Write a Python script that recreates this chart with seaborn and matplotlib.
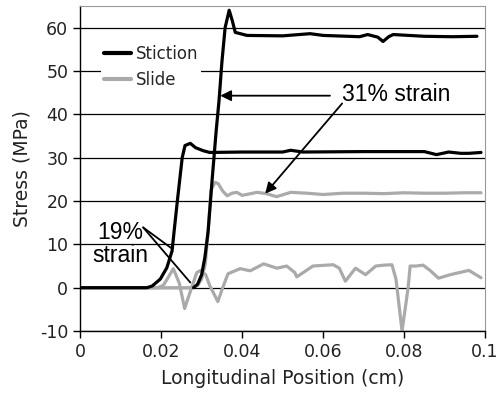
import pandas as pd
import matplotlib
matplotlib.use("Agg")
import matplotlib.pyplot as plt
import seaborn as sns

# Stress profiles along the tube
stiction_19_x = [0, 0.0165, 0.0178, 0.0198, 0.0214, 0.0227, 0.0232, 0.024, 0.0252, 0.0259,
                 0.0272, 0.0285, 0.0304, 0.032, 0.040, 0.050, 0.052, 0.055, 0.070, 0.085,
                 0.088, 0.091, 0.094, 0.096, 0.099]
stiction_19_y = [0, 0, 0.4, 2, 4.6, 8.5, 13, 20, 30, 32.8,
                 33.3, 32.3, 31.6, 31.2, 31.3, 31.3, 31.7, 31.3, 31.4, 31.4,
                 30.7, 31.3, 31.0, 31.0, 31.2]

stiction_31_x = [0.028, 0.029, 0.0300, 0.0308, 0.0316, 0.0326, 0.0336, 0.0343, 0.035, 0.0358,
                 0.0368, 0.0376, 0.0383, 0.0412, 0.050, 0.0568, 0.060, 0.069, 0.071, 0.0735,
                 0.0748, 0.0762, 0.0773, 0.085, 0.092, 0.098]
stiction_31_y = [0, 0.8, 3, 7, 13, 25, 36.3, 43.2, 52, 60,
                 64, 61.5, 58.9, 58.2, 58.1, 58.6, 58.2, 57.9, 58.4, 57.8,
                 56.8, 57.9, 58.4, 58.0, 57.9, 58.0]

slide_19_x = [0, 0.019, 0.0205, 0.0215, 0.023, 0.0245, 0.0258, 0.0268, 0.0277, 0.0288,
              0.0298, 0.031, 0.032, 0.034, 0.0352, 0.0365, 0.0395, 0.042, 0.0453, 0.0486,
              0.051, 0.053, 0.0535, 0.0575, 0.0625, 0.064, 0.0655, 0.068, 0.0705, 0.073,
              0.075, 0.077, 0.078, 0.0795, 0.081, 0.0815, 0.083, 0.0847, 0.0864, 0.0885,
              0.0914, 0.096, 0.099]
slide_19_y = [0, 0, 0.5, 2, 4.4, 1, -4.8, -2, 0.5, 3.5,
              4, 3, 0.5, -3.2, 0, 3.2, 4.4, 3.9, 5.5, 4.5,
              5.0, 3.5, 2.5, 5.0, 5.3, 4.5, 1.5, 4.5, 3, 5,
              5.2, 5.3, 2, -10, 0, 5, 5, 5.2, 4, 2.2,
              3, 4, 2.3]

slide_31_x = [0, 0.027, 0.0290, 0.0300, 0.0309, 0.0316, 0.0323, 0.0333, 0.0341, 0.0352,
              0.0363, 0.0375, 0.0387, 0.040, 0.0437, 0.046, 0.0485, 0.052, 0.056, 0.060,
              0.065, 0.070, 0.075, 0.080, 0.085, 0.090, 0.095, 0.099]
slide_31_y = [0, 0, 0.5, 2, 5.5, 13, 22.5, 24.3, 24.0, 22.3,
              21.2, 21.8, 22.0, 21.3, 22.0, 21.7, 21.0, 22.0, 21.8, 21.5,
              21.8, 21.8, 21.7, 21.9, 21.8, 21.8, 21.9, 21.9]

frames = []
for xs, ys, surface, strain in [(slide_19_x, slide_19_y, 'Slide', '19%'),
                                (slide_31_x, slide_31_y, 'Slide', '31%'),
                                (stiction_31_x, stiction_31_y, 'Stiction', '31%'),
                                (stiction_19_x, stiction_19_y, 'Stiction', '19%')]:
    frames.append(pd.DataFrame({'pos': xs, 'stress': ys, 'surface': surface, 'strain': strain}))
df = pd.concat(frames, ignore_index=True)

sns.set_style('ticks')
plt.rcParams['font.family'] = ['DejaVu Sans']
plt.rcParams['axes.unicode_minus'] = False

fig = plt.figure(figsize=(4.98, 3.96), dpi=100)
ax = fig.add_axes([0.161, 0.164, 0.813, 0.821])

sns.lineplot(data=df, x='pos', y='stress', hue='surface', units='strain', estimator=None,
             sort=False, hue_order=['Slide', 'Stiction'],
             palette={'Stiction': 'black', 'Slide': '#aaaaaa'}, lw=2.3, ax=ax)

ax.set_xlim(0, 0.1)
ax.set_ylim(-10, 65)
ax.set_xticks([0, 0.02, 0.04, 0.06, 0.08, 0.1])
ax.set_xticklabels(['0', '0.02', '0.04', '0.06', '0.08', '0.1'])
ax.set_yticks(range(-10, 61, 10))
ax.yaxis.grid(True, color='black', lw=0.9)
ax.set_axisbelow(True)
ax.tick_params(direction='out', length=5, width=1, colors='black', labelsize=12.5,
               labelcolor='#222222')
for side in ['top', 'right']:
    ax.spines[side].set_color('#999999')
    ax.spines[side].set_linewidth(0.8)
for side in ['left', 'bottom']:
    ax.spines[side].set_color('black')
    ax.spines[side].set_linewidth(1)

ax.set_xlabel('Longitudinal Position (cm)', fontsize=13.5, color='#222222', labelpad=6)
ax.set_ylabel('Stress (MPa)', fontsize=13.5, color='#222222', labelpad=6)

handles, labels = ax.get_legend_handles_labels()
order = [labels.index('Stiction'), labels.index('Slide')]
leg = ax.legend([handles[i] for i in order], [labels[i] for i in order],
                loc='upper left', bbox_to_anchor=(0.03, 0.915), fontsize=12,
                frameon=True, facecolor='white', edgecolor='none', framealpha=1,
                handlelength=1.6, handletextpad=0.3, labelspacing=0.45,
                borderpad=0.2, fancybox=False)
for line in leg.get_lines():
    line.set_linewidth(3)

# annotations
txt = dict(family='Liberation Sans', fontsize=16.5, color='black')
ax.text(0.0647, 44.6, '31% strain', ha='left', va='center', **txt)
arrow = dict(arrowstyle='-|>', color='black', lw=1.3, mutation_scale=16,
             shrinkA=0, shrinkB=0)
ax.annotate('', xy=(0.0346, 44.3), xytext=(0.0617, 44.3), arrowprops=arrow)
ax.annotate('', xy=(0.0457, 21.7), xytext=(0.0647, 42.5), arrowprops=arrow)

ax.text(0.0100, 10.0, '19%\nstrain', ha='center', va='center', multialignment='center',
        linespacing=1.0, **txt)
plain = dict(arrowstyle='-', color='black', lw=1.3, shrinkA=0, shrinkB=0)
ax.annotate('', xy=(0.0227, 9.0), xytext=(0.01556, 13.9), arrowprops=plain)
ax.annotate('', xy=(0.0272, 1.2), xytext=(0.01556, 13.9), arrowprops=plain)

fig.savefig('out.png', dpi=100)
